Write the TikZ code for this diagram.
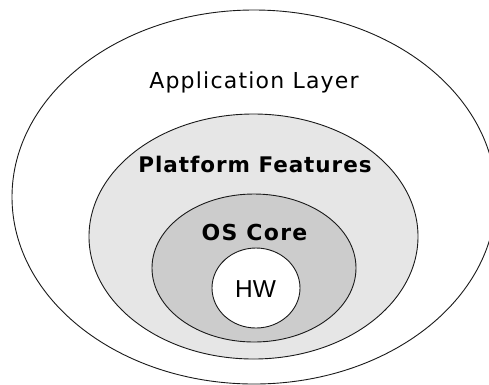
\documentclass[tikz,border=0pt]{standalone}
\usepackage{fontspec}
\usetikzlibrary{shapes.geometric}
\newfontfamily\appfont[LetterSpace=5.5]{DejaVu Sans}
\newfontfamily\pffont[LetterSpace=4.4]{DejaVu Sans Bold}
\newfontfamily\osfont[LetterSpace=6]{DejaVu Sans Bold}
\newfontfamily\hwfont{Liberation Sans}
\definecolor{pfgray}{HTML}{E6E6E6}
\definecolor{osgray}{HTML}{CCCCCC}
\definecolor{edge}{HTML}{1A1A1A}
\tikzset{
  layer/.style={ellipse, draw=edge, line width=0.9pt, inner sep=0pt, outer sep=0pt},
  lbl/.style={anchor=base, inner sep=0pt, text=black},
}
\begin{document}
\begin{tikzpicture}[x=1pt, y=-1pt]
\useasboundingbox (0,0) rectangle (489,384);
\clip (0,0) rectangle (489,384);
\fill[white] (0,0) rectangle (489,384);
\node[layer, fill=white, minimum width=484pt, minimum height=374pt] (app) at (254,197) {};
\node[layer, fill=pfgray, minimum width=329pt, minimum height=245pt] (pf) at (253.5,236.5) {};
\node[layer, fill=osgray, minimum width=204pt, minimum height=148pt] (os) at (254,268) {};
\node[layer, fill=white, minimum width=88pt, minimum height=80pt] (hw) at (256,288) {};
\node[lbl, font=\appfont\fontsize{22pt}{24pt}\selectfont] (applbl) at (254,88) {Application Layer};
\node[lbl, font=\pffont\fontsize{21.5pt}{24pt}\selectfont] (pflbl) at (255,172) {Platform Features};
\node[lbl, font=\osfont\fontsize{22pt}{24pt}\selectfont] (oslbl) at (254.5,240) {OS Core};
\node[lbl, font=\hwfont\fontsize{24.5pt}{27pt}\selectfont] (hwlbl) at (255.5,297.7) {HW};
\end{tikzpicture}
\end{document}
